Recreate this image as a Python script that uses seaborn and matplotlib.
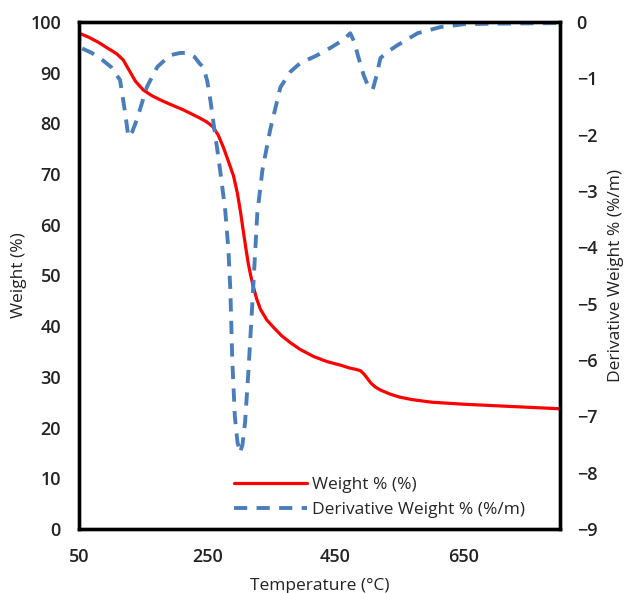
import matplotlib
matplotlib.use("Agg")
import matplotlib.pyplot as plt
import seaborn as sns
import pandas as pd

# Weight curve (left axis)
temp_w = [50, 65, 80, 95, 108, 119, 128, 138, 150, 163, 177, 195, 212, 228, 239, 249, 259, 267,
          275, 283, 291, 297, 302, 306, 310, 314, 318, 322, 327, 333, 343, 353, 366, 380, 395,
          416, 437, 458, 473, 481, 489, 494, 499, 505, 512, 520, 535, 550, 570, 600, 650, 700,
          750, 800]
weight = [97.8, 97.0, 96.0, 94.8, 93.8, 92.5, 90.5, 88.3, 86.6, 85.5, 84.6, 83.6, 82.7, 81.7,
          81.0, 80.3, 79.3, 77.7, 75.3, 72.5, 69.6, 66.2, 62.4, 58.9, 55.5, 52.3, 49.8, 47.7,
          45.4, 43.3, 41.2, 39.8, 38.1, 36.7, 35.4, 34.0, 33.0, 32.3, 31.7, 31.5, 31.2, 30.6,
          29.8, 28.8, 28.0, 27.4, 26.6, 26.0, 25.5, 25.0, 24.6, 24.3, 24.0, 23.7]

# Derivative curve (right axis)
temp_d = [50, 51, 70, 87, 100, 114, 122, 127, 133, 140, 156, 172, 192, 208, 219, 230, 239, 244,
          250, 255, 259, 266, 270, 278, 283, 286, 289, 293, 297, 301, 305, 309, 314, 320, 328,
          336, 348, 364, 380, 395, 420, 442, 462, 473, 479, 486, 494, 502, 508, 514, 520, 535,
          547, 578, 614, 650, 700, 800]
deriv = [-0.1, -0.45, -0.55, -0.68, -0.8, -1.03, -1.62, -2.04, -1.95, -1.74, -1.15, -0.8, -0.59,
         -0.55, -0.55, -0.62, -0.75, -0.8, -1.05, -1.4, -1.74, -2.3, -2.63, -3.34, -4.05, -4.76,
         -6.0, -7.0, -7.45, -7.65, -7.5, -7.1, -6.23, -5.05, -3.4, -2.63, -1.92, -1.16, -0.88,
         -0.73, -0.6, -0.46, -0.32, -0.2, -0.35, -0.64, -0.95, -1.17, -1.2, -0.95, -0.64, -0.5,
         -0.41, -0.2, -0.09, -0.04, -0.03, -0.02]

x_ticks = [50, 250, 450, 650]
left_ticks = list(range(0, 101, 10))
right_ticks = list(range(-9, 1))

sns.set_theme(style="white")
plt.rcParams['font.family'] = ['Open Sans', 'DejaVu Sans']

df_w = pd.DataFrame({"Temperature": temp_w, "Weight": weight})
df_d = pd.DataFrame({"Temperature": temp_d, "Deriv": deriv})

fig = plt.figure(figsize=(6.29, 5.93), dpi=100)
ax = fig.add_axes([0.1256, 0.108, 0.7647, 0.855])
ax2 = ax.twinx()

sns.lineplot(data=df_w, x="Temperature", y="Weight", ax=ax, color="#FF0000",
             linewidth=2.3, label="Weight % (%)", legend=False)
sns.lineplot(data=df_d, x="Temperature", y="Deriv", ax=ax2, color="#4A7EBB",
             linewidth=2.8, linestyle="--", label="Derivative Weight % (%/m)", legend=False)
ax2.lines[0].set_dashes([3.4, 2.4])
for ln in ax.lines + ax2.lines:
    ln.set_solid_joinstyle("round")
    ln.set_dash_joinstyle("round")

ax.set_xlim(50, 800)
ax.set_ylim(0, 100)
ax2.set_ylim(-9, 0)
ax.set_xticks(x_ticks)
ax.set_yticks(left_ticks)
ax2.set_yticks(right_ticks)

ax.tick_params(axis="x", length=0, pad=14)
ax.tick_params(axis="y", length=0, pad=13)
ax2.tick_params(axis="y", length=0, pad=12)
for lab in ax.get_xticklabels() + ax.get_yticklabels() + ax2.get_yticklabels():
    lab.set_fontsize(13)
    lab.set_fontweight("semibold")
    lab.set_color("#222222")

ax.set_xlabel("Temperature (°C)", fontsize=12.5, color="#222222", labelpad=8)
ax.set_ylabel("Weight (%)", fontsize=12.5, color="#222222", labelpad=2)
ax2.set_ylabel("Derivative Weight % (%/m)", fontsize=12.5, color="#222222", labelpad=8)

for a in (ax, ax2):
    for s in a.spines.values():
        s.set_color("black")
        s.set_linewidth(2.4)
        s.set_visible(True)
ax.grid(False)
ax2.grid(False)

handles = ax.get_lines()[:1] + ax2.get_lines()[:1]
labels = ["Weight % (%)", "Derivative Weight % (%/m)"]
ax2.legend(handles, labels, loc="lower left", bbox_to_anchor=(0.322, 0.022),
           frameon=False, fontsize=12.5, handlelength=4.2, handletextpad=0.3,
           borderpad=0, borderaxespad=0, labelspacing=0.5)

fig.savefig("out.png", dpi=100)
